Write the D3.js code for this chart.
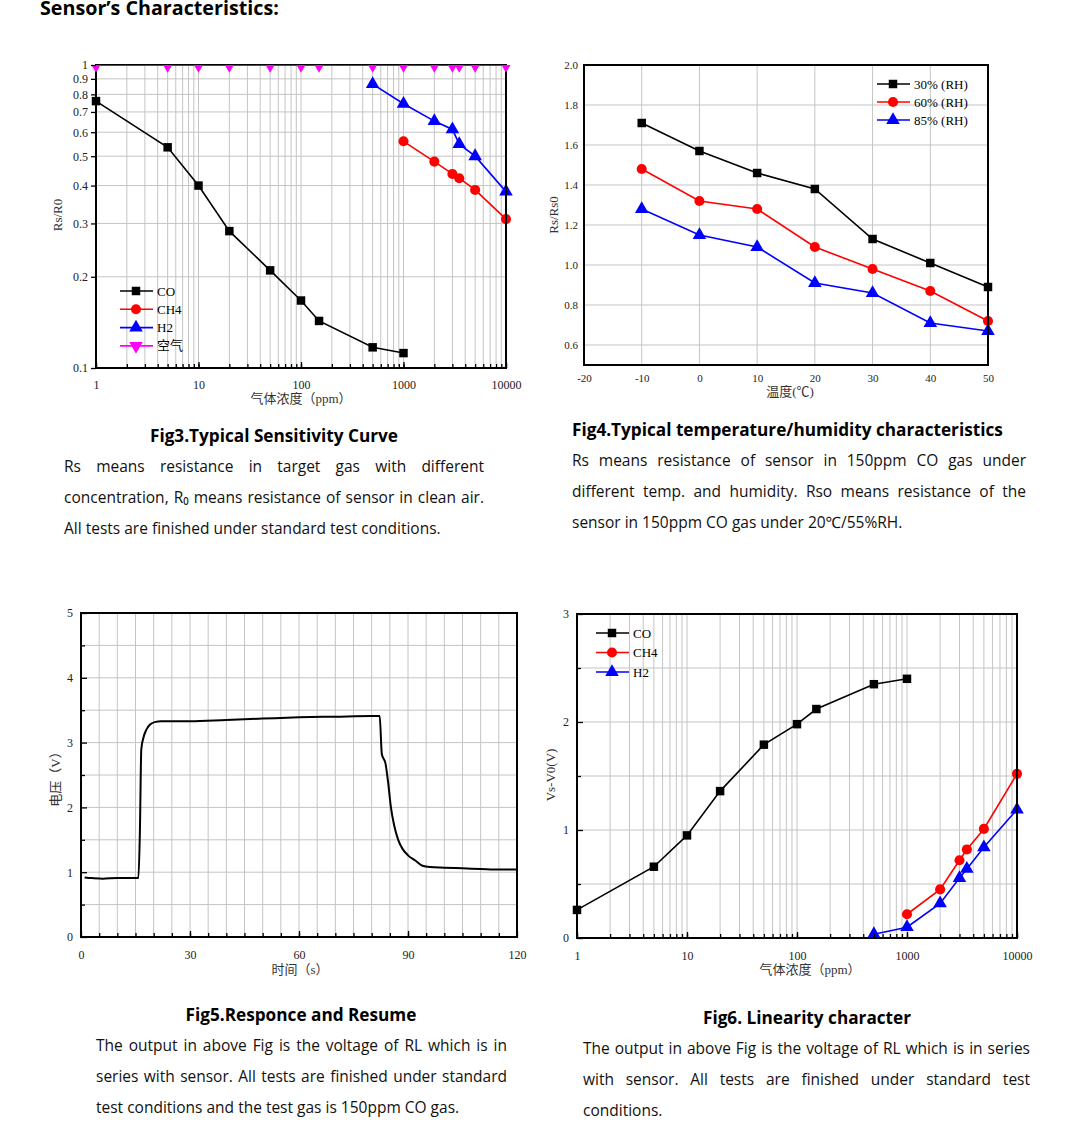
<!DOCTYPE html>
<html>
<head>
<meta charset="utf-8">
<script src="https://d3js.org/d3.v7.min.js"></script>
<style>
    body { margin: 0; background: #fff; }
    svg { display: block; }
</style>
</head>
<body>
<script>
// chart data
const fig3CoX = [1, 5, 10, 20, 50, 100, 150, 500, 1000];
const fig3CoY = [0.76, 0.535, 0.40, 0.283, 0.21, 0.167, 0.143, 0.117, 0.112];
const fig3Ch4X = [1000, 2000, 3000, 3500, 5000, 10000];
const fig3Ch4Y = [0.56, 0.48, 0.437, 0.423, 0.387, 0.31];
const fig3H2X = [500, 1000, 2000, 3000, 3500, 5000, 10000];
const fig3H2Y = [0.865, 0.745, 0.653, 0.613, 0.548, 0.50, 0.382];
const fig3AirX = [1, 5, 10, 20, 50, 100, 150, 500, 1000, 2000, 3000, 3500, 5000, 10000];
const fig3AirY = [1, 1, 1, 1, 1, 1, 1, 1, 1, 1, 1, 1, 1, 1];
const fig3Legend = ['CO', 'CH4', 'H2', '空气'];
const fig3YTicks = [0.1, 0.2, 0.3, 0.4, 0.5, 0.6, 0.7, 0.8, 0.9, 1];
const logXTicks = [1, 10, 100, 1000, 10000];

const fig4Temp = [-10, 0, 10, 20, 30, 40, 50];
const fig4Rh30 = [1.71, 1.57, 1.46, 1.38, 1.13, 1.01, 0.89];
const fig4Rh60 = [1.48, 1.32, 1.28, 1.09, 0.98, 0.87, 0.72];
const fig4Rh85 = [1.28, 1.15, 1.09, 0.91, 0.86, 0.71, 0.67];
const fig4Legend = ['30% (RH)', '60% (RH)', '85% (RH)'];
const fig4XTicks = [-20, -10, 0, 10, 20, 30, 40, 50];
const fig4YTicks = [0.6, 0.8, 1.0, 1.2, 1.4, 1.6, 1.8, 2.0];

const fig5Time = [1, 3, 6, 10, 15.8, 16.2, 16.6, 17.2, 18, 19, 20.5, 22, 30, 40, 50, 60, 70, 80, 82.2,
    82.8, 83.8, 84.5, 85.3, 86.2, 87.3, 88.5, 90, 92, 94, 96, 100, 105, 110, 115, 120];
const fig5Volt = [0.92, 0.91, 0.90, 0.91, 0.91, 1.6, 2.9, 3.08, 3.2, 3.28, 3.32, 3.33, 3.33, 3.35, 3.37, 3.39, 3.40, 3.41, 3.41,
    2.82, 2.68, 2.4, 2.0, 1.72, 1.5, 1.36, 1.26, 1.18, 1.1, 1.08, 1.07, 1.06, 1.05, 1.04, 1.04];
const fig5XTicks = [0, 30, 60, 90, 120];
const fig5YTicks = [0, 1, 2, 3, 4, 5];

const fig6CoX = [1, 5, 10, 20, 50, 100, 150, 500, 1000];
const fig6CoY = [0.26, 0.66, 0.95, 1.36, 1.79, 1.98, 2.12, 2.35, 2.40];
const fig6Ch4X = [1000, 2000, 3000, 3500, 5000, 10000];
const fig6Ch4Y = [0.22, 0.45, 0.72, 0.82, 1.01, 1.52];
const fig6H2X = [500, 1000, 2000, 3000, 3500, 5000, 10000];
const fig6H2Y = [0.035, 0.10, 0.32, 0.555, 0.64, 0.84, 1.19];
const fig6Legend = ['CO', 'CH4', 'H2'];
const fig6YTicks = [0, 1, 2, 3];

const fig3Caption = 'Fig3.Typical Sensitivity Curve';
const fig3Text = [
    'Rs means resistance in target gas with different',
    'concentration, R\u2080 means resistance of sensor in clean air.',
    'All tests are finished under standard test conditions.'];
const fig4Caption = 'Fig4.Typical temperature/humidity characteristics';
const fig4Text = [
    'Rs means resistance of sensor in 150ppm CO gas under',
    'different temp. and humidity. Rso means resistance of the',
    'sensor in 150ppm CO gas under 20\u2103/55%RH.'];
const fig5Caption = 'Fig5.Responce and Resume';
const fig5Text = [
    'The output in above Fig is the voltage of RL which is in',
    'series with sensor. All tests are finished under standard',
    'test conditions and the test gas is 150ppm CO gas.'];
const fig6Caption = 'Fig6. Linearity character';
const fig6Text = [
    'The output in above Fig is the voltage of RL which is in series',
    'with sensor. All tests are finished under standard test',
    'conditions.'];

const SERIF = '"Liberation Serif", "Noto Sans CJK SC", serif';
const SANS = '"Open Sans", "Noto Sans", sans-serif';
const GRID = '#c4c4c4';
const BODY_SIZE = '15.5px';

const svg = d3.select('body').append('svg')
    .attr('width', 1091).attr('height', 1131);

svg.append('text')
    .attr('x', 40).attr('y', 15)
    .style('font-family', SANS).style('font-weight', 'bold').style('font-size', '19.7px')
    .text('Sensor\u2019s Characteristics:');

const symbols = {
    square: d3.symbol().type(d3.symbolSquare).size(72),
    circle: d3.symbol().type(d3.symbolCircle).size(80),
    up: d3.symbol().type(d3.symbolTriangle).size(80),
    down: d3.symbol().type(d3.symbolTriangle).size(80),
};

function zip(xs, ys) {
    return xs.map((x, i) => [x, ys[i]]);
}

function series(g, x, y, pts, color, shape, clipId) {
    const line = d3.line().x(d => x(d[0])).y(d => y(d[1]));
    const s = g.append('g');
    if (clipId) s.attr('clip-path', 'url(#' + clipId + ')');
    s.append('path')
        .attr('d', line(pts))
        .attr('fill', 'none').attr('stroke', color).attr('stroke-width', 1.6);
    s.selectAll('path.mk').data(pts).enter()
        .append('path').attr('class', 'mk')
        .attr('d', symbols[shape]())
        .attr('transform', d => 'translate(' + x(d[0]) + ',' + y(d[1]) + ')' + (shape == 'down' ? ' rotate(180)' : ''))
        .attr('fill', color);
}

function legend(g, x0, y0, dy, names, colors, shapes, fontSize) {
    names.forEach((n, i) => {
        const y = y0 + i * dy;
        g.append('line').attr('x1', x0).attr('x2', x0 + 33).attr('y1', y).attr('y2', y)
            .attr('stroke', colors[i]).attr('stroke-width', 1.6);
        g.append('path').attr('d', symbols[shapes[i]]())
            .attr('transform', 'translate(' + (x0 + 16) + ',' + y + ')' + (shapes[i] == 'down' ? ' rotate(180)' : ''))
            .attr('fill', colors[i]);
        g.append('text').attr('x', x0 + 37).attr('y', y + 4.5)
            .style('font-family', SERIF).style('font-size', fontSize)
            .text(n);
    });
}

function frame(g, x0, y0, x1, y1) {
    g.append('rect').attr('x', x0).attr('y', y0).attr('width', x1 - x0).attr('height', y1 - y0)
        .attr('fill', 'none').attr('stroke', '#000').attr('stroke-width', 2);
}

function vGrid(g, x, vals, y0, y1) {
    g.selectAll(null).data(vals).enter().append('line')
        .attr('x1', d => x(d)).attr('x2', d => x(d)).attr('y1', y0).attr('y2', y1)
        .attr('stroke', GRID).attr('stroke-width', 1);
}

function hGrid(g, y, vals, x0, x1) {
    g.selectAll(null).data(vals).enter().append('line')
        .attr('y1', d => y(d)).attr('y2', d => y(d)).attr('x1', x0).attr('x2', x1)
        .attr('stroke', GRID).attr('stroke-width', 1);
}

function styleAxis(a, size) {
    a.select('.domain').remove();
    a.selectAll('text').style('font-family', SERIF).style('font-size', size).attr('fill', '#222');
    a.selectAll('line').attr('stroke', '#000').attr('stroke-width', 1.3);
}

function axisTitle(g, x, y, txt, rotate) {
    g.append('text')
        .attr('transform', 'translate(' + x + ',' + y + ')' + (rotate ? ' rotate(-90)' : ''))
        .attr('text-anchor', 'middle')
        .style('font-family', SERIF).style('font-size', '13px').attr('fill', '#333')
        .text(txt);
}

// write lines, spreading words so the line fills the width when asked
function paragraph(g, lines, x, y, width, lh, justify) {
    lines.forEach((ln, i) => {
        const yy = y + i * lh;
        const words = ln.split(' ');
        if (!justify[i]) {
            g.append('text').attr('x', x).attr('y', yy)
                .style('font-family', SANS).style('font-size', BODY_SIZE).attr('fill', '#111')
                .text(ln);
            return;
        }
        const nodes = words.map(w => g.append('text').attr('y', yy)
            .style('font-family', SANS).style('font-size', BODY_SIZE).attr('fill', '#111').text(w));
        const widths = nodes.map(n => n.node().getComputedTextLength());
        const gap = (width - d3.sum(widths)) / (words.length - 1);
        let cx = x;
        nodes.forEach((n, k) => {
            n.attr('x', cx);
            cx += widths[k] + gap;
        });
    });
}

function caption(g, x, y, txt, anchor) {
    g.append('text').attr('x', x).attr('y', y).attr('text-anchor', anchor)
        .style('font-family', SANS).style('font-weight', 'bold').style('font-size', '17.2px')
        .text(txt);
}

function drawFig3() {
    const g = svg.append('g');
    const x = d3.scaleLog().domain([1, 10000]).range([96, 506]);
    const y = d3.scaleLog().domain([0.1, 1]).range([368, 65]);

    vGrid(g, x, x.ticks(), 65, 368);
    hGrid(g, y, fig3YTicks, 96, 506);

    g.append('defs').append('clipPath').attr('id', 'clip3')
        .append('rect').attr('x', 90).attr('y', 65).attr('width', 422).attr('height', 310);

    series(g, x, y, zip(fig3CoX, fig3CoY), '#000', 'square');
    series(g, x, y, zip(fig3Ch4X, fig3Ch4Y), '#ff0000', 'circle');
    series(g, x, y, zip(fig3H2X, fig3H2Y), '#0000ff', 'up');
    frame(g, 96, 65, 506, 368);
    series(g, x, y, zip(fig3AirX, fig3AirY), '#ff00ff', 'down', 'clip3');

    const ay = g.append('g').attr('transform', 'translate(96,0)')
        .call(d3.axisLeft(y).tickValues(fig3YTicks).tickFormat(d => d).tickSize(5).tickPadding(3));
    styleAxis(ay, '12px');
    const axm = g.append('g').attr('transform', 'translate(0,368)')
        .call(d3.axisBottom(x).tickValues(x.ticks()).tickFormat('').tickSize(-4));
    styleAxis(axm, '12px');
    const ax = g.append('g').attr('transform', 'translate(0,368)')
        .call(d3.axisBottom(x).tickValues(logXTicks).tickFormat(d => d).tickSize(-6).tickPadding(12));
    styleAxis(ax, '12px');

    legend(g, 120, 291, 18.3, fig3Legend, ['#000', '#ff0000', '#0000ff', '#ff00ff'],
        ['square', 'circle', 'up', 'down'], '13px');
    axisTitle(g, 301, 403, '气体浓度（ppm）', false);
    axisTitle(g, 62, 215, 'Rs/R0', true);

    caption(g, 274, 442, fig3Caption, 'middle');
    paragraph(g, fig3Text, 64, 472, 420, 31, [true, true, false]);
}

function drawFig4() {
    const g = svg.append('g');
    const x = d3.scaleLinear().domain([-20, 50]).range([584, 988]);
    const y = d3.scaleLinear().domain([0.5, 2.0]).range([365, 65]);

    vGrid(g, x, fig4XTicks.slice(1, -1), 65, 365);
    hGrid(g, y, fig4YTicks.slice(0, -1), 584, 988);

    series(g, x, y, zip(fig4Temp, fig4Rh30), '#000', 'square');
    series(g, x, y, zip(fig4Temp, fig4Rh60), '#ff0000', 'circle');
    series(g, x, y, zip(fig4Temp, fig4Rh85), '#0000ff', 'up');
    frame(g, 584, 65, 988, 365);

    const ay = g.append('g').attr('transform', 'translate(584,0)')
        .call(d3.axisLeft(y).tickValues(fig4YTicks).tickFormat(d3.format('.1f')).tickSize(0).tickPadding(6));
    styleAxis(ay, '11px');
    const ax = g.append('g').attr('transform', 'translate(0,365)')
        .call(d3.axisBottom(x).tickValues(fig4XTicks).tickFormat(d => d).tickSize(0).tickPadding(9));
    styleAxis(ax, '11px');

    legend(g, 877, 84, 18, fig4Legend, ['#000', '#ff0000', '#0000ff'], ['square', 'circle', 'up'], '13px');
    axisTitle(g, 790, 396, '温度(℃)', false);
    axisTitle(g, 558, 215, 'Rs/Rs0', true);

    caption(g, 572, 436, fig4Caption, 'start');
    paragraph(g, fig4Text, 572, 466, 454, 31, [true, true, false]);
}

function drawFig5() {
    const g = svg.append('g');
    const x = d3.scaleLinear().domain([0, 120]).range([81, 517]);
    const y = d3.scaleLinear().domain([0, 5]).range([937, 613]);

    vGrid(g, x, d3.range(5, 120, 5), 613, 937);
    hGrid(g, y, d3.range(0.5, 5, 0.5), 81, 517);

    const line = d3.line().x(d => x(d[0])).y(d => y(d[1])).curve(d3.curveMonotoneX);
    g.append('path').attr('d', line(zip(fig5Time, fig5Volt)))
        .attr('fill', 'none').attr('stroke', '#000').attr('stroke-width', 2);
    frame(g, 81, 613, 517, 937);

    const aym = g.append('g').attr('transform', 'translate(81,0)')
        .call(d3.axisLeft(y).tickValues(d3.range(0.5, 5, 1)).tickFormat('').tickSize(-4));
    styleAxis(aym, '12px');
    const ay = g.append('g').attr('transform', 'translate(81,0)')
        .call(d3.axisLeft(y).tickValues(fig5YTicks).tickFormat(d => d).tickSize(-6).tickPadding(8));
    styleAxis(ay, '12px');
    const axm = g.append('g').attr('transform', 'translate(0,937)')
        .call(d3.axisBottom(x).tickValues(d3.range(5, 120, 5)).tickFormat('').tickSize(-4));
    styleAxis(axm, '12px');
    const ax = g.append('g').attr('transform', 'translate(0,937)')
        .call(d3.axisBottom(x).tickValues(fig5XTicks).tickFormat(d => d).tickSize(-6).tickPadding(13));
    styleAxis(ax, '12px');

    axisTitle(g, 300, 974, '时间（s）', false);
    axisTitle(g, 60, 776, '电压（V）', true);

    caption(g, 301, 1021, fig5Caption, 'middle');
    paragraph(g, fig5Text, 96, 1051, 411, 31, [true, true, false]);
}

function drawFig6() {
    const g = svg.append('g');
    const x = d3.scaleLog().domain([1, 10000]).range([577, 1017]);
    const y = d3.scaleLinear().domain([0, 3]).range([938, 614]);

    vGrid(g, x, x.ticks(), 614, 938);
    hGrid(g, y, d3.range(0.5, 3, 0.5), 577, 1017);

    series(g, x, y, zip(fig6CoX, fig6CoY), '#000', 'square');
    series(g, x, y, zip(fig6Ch4X, fig6Ch4Y), '#ff0000', 'circle');
    series(g, x, y, zip(fig6H2X, fig6H2Y), '#0000ff', 'up');
    frame(g, 577, 614, 1017, 938);

    const aym = g.append('g').attr('transform', 'translate(577,0)')
        .call(d3.axisLeft(y).tickValues([0.5, 1.5, 2.5]).tickFormat('').tickSize(-4));
    styleAxis(aym, '12px');
    const ay = g.append('g').attr('transform', 'translate(577,0)')
        .call(d3.axisLeft(y).tickValues(fig6YTicks).tickFormat(d => d).tickSize(-6).tickPadding(8));
    styleAxis(ay, '12px');
    const axm = g.append('g').attr('transform', 'translate(0,938)')
        .call(d3.axisBottom(x).tickValues(x.ticks()).tickFormat('').tickSize(-4));
    styleAxis(axm, '12px');
    const ax = g.append('g').attr('transform', 'translate(0,938)')
        .call(d3.axisBottom(x).tickValues(logXTicks).tickFormat(d => d).tickSize(-6).tickPadding(13));
    styleAxis(ax, '12px');

    legend(g, 596, 633, 19.5, fig6Legend, ['#000', '#ff0000', '#0000ff'], ['square', 'circle', 'up'], '13px');
    axisTitle(g, 810, 974, '气体浓度（ppm）', false);
    axisTitle(g, 555, 775, 'Vs-V0(V)', true);

    caption(g, 807, 1024, fig6Caption, 'middle');
    paragraph(g, fig6Text, 583, 1054, 447, 31, [true, true, false]);
}

drawFig3();
drawFig4();
drawFig5();
drawFig6();
</script>
</body>
</html>
